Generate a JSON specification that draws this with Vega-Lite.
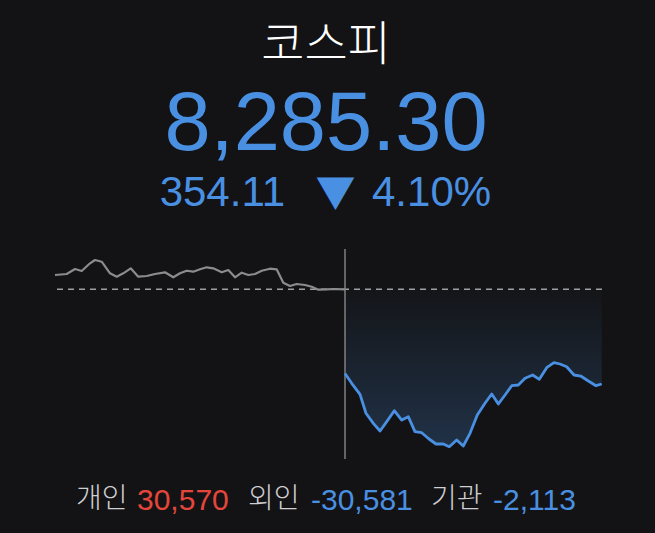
{
  "$schema": "https://vega.github.io/schema/vega-lite/v6.json",
  "width": 547,
  "height": 210,
  "autosize": {"type": "none"},
  "padding": {"left": 55, "top": 249, "right": 53, "bottom": 74},
  "background": "#131315",
  "config": {"view": {"stroke": null}},
  "datasets": {
    "prices": [
      {"series": "prev", "minute": 0, "kospi": 8692.9},
      {"series": "prev", "minute": 15.7, "kospi": 8696.6},
      {"series": "prev", "minute": 26.9, "kospi": 8715.3},
      {"series": "prev", "minute": 35.9, "kospi": 8707.8},
      {"series": "prev", "minute": 47.1, "kospi": 8736.6},
      {"series": "prev", "minute": 53.8, "kospi": 8749.0},
      {"series": "prev", "minute": 62.8, "kospi": 8742.6},
      {"series": "prev", "minute": 74.0, "kospi": 8699.2},
      {"series": "prev", "minute": 83.0, "kospi": 8686.5},
      {"series": "prev", "minute": 91.8, "kospi": 8699.2},
      {"series": "prev", "minute": 101.8, "kospi": 8717.9},
      {"series": "prev", "minute": 112.0, "kospi": 8686.5},
      {"series": "prev", "minute": 123.3, "kospi": 8689.1},
      {"series": "prev", "minute": 134.5, "kospi": 8696.6},
      {"series": "prev", "minute": 147.9, "kospi": 8703.0},
      {"series": "prev", "minute": 159.1, "kospi": 8684.3},
      {"series": "prev", "minute": 168.1, "kospi": 8699.2},
      {"series": "prev", "minute": 177.1, "kospi": 8708.9},
      {"series": "prev", "minute": 186.0, "kospi": 8705.2},
      {"series": "prev", "minute": 195.0, "kospi": 8714.2},
      {"series": "prev", "minute": 204.0, "kospi": 8721.7},
      {"series": "prev", "minute": 212.9, "kospi": 8717.9},
      {"series": "prev", "minute": 224.2, "kospi": 8703.0},
      {"series": "prev", "minute": 233.1, "kospi": 8711.6},
      {"series": "prev", "minute": 242.1, "kospi": 8684.3},
      {"series": "prev", "minute": 251.1, "kospi": 8701.5},
      {"series": "prev", "minute": 260.0, "kospi": 8692.9},
      {"series": "prev", "minute": 269.0, "kospi": 8696.6},
      {"series": "prev", "minute": 278.0, "kospi": 8708.9},
      {"series": "prev", "minute": 289.1, "kospi": 8716.4},
      {"series": "prev", "minute": 298.1, "kospi": 8714.2},
      {"series": "prev", "minute": 307.0, "kospi": 8664.1},
      {"series": "prev", "minute": 316.0, "kospi": 8651.7},
      {"series": "prev", "minute": 325.0, "kospi": 8659.2},
      {"series": "prev", "minute": 336.2, "kospi": 8655.5},
      {"series": "prev", "minute": 345.2, "kospi": 8649.1},
      {"series": "prev", "minute": 354.1, "kospi": 8637.9},
      {"series": "prev", "minute": 365.4, "kospi": 8639.4},
      {"series": "prev", "minute": 374.3, "kospi": 8640.5},
      {"series": "prev", "minute": 390.0, "kospi": 8639.4},
      {"series": "today", "minute": 390.0, "kospi": 8324.6},
      {"series": "today", "minute": 399.0, "kospi": 8287.9},
      {"series": "today", "minute": 410.2, "kospi": 8246.8},
      {"series": "today", "minute": 418.2, "kospi": 8175.8},
      {"series": "today", "minute": 428.1, "kospi": 8138.4},
      {"series": "today", "minute": 437.1, "kospi": 8109.6},
      {"series": "today", "minute": 446.1, "kospi": 8144.4},
      {"series": "today", "minute": 456.3, "kospi": 8185.5},
      {"series": "today", "minute": 466.3, "kospi": 8150.7},
      {"series": "today", "minute": 475.1, "kospi": 8163.1},
      {"series": "today", "minute": 484.1, "kospi": 8107.0},
      {"series": "today", "minute": 493.1, "kospi": 8103.2},
      {"series": "today", "minute": 503.0, "kospi": 8079.7},
      {"series": "today", "minute": 512.4, "kospi": 8061.0},
      {"series": "today", "minute": 522.2, "kospi": 8061.0},
      {"series": "today", "minute": 530.2, "kospi": 8050.9},
      {"series": "today", "minute": 540.2, "kospi": 8075.9},
      {"series": "today", "minute": 549.0, "kospi": 8053.5},
      {"series": "today", "minute": 558.1, "kospi": 8101.0},
      {"series": "today", "minute": 567.9, "kospi": 8169.4},
      {"series": "today", "minute": 578.2, "kospi": 8213.2},
      {"series": "today", "minute": 587.3, "kospi": 8247.9},
      {"series": "today", "minute": 596.2, "kospi": 8210.5},
      {"series": "today", "minute": 605.2, "kospi": 8244.2},
      {"series": "today", "minute": 614.2, "kospi": 8279.0},
      {"series": "today", "minute": 623.1, "kospi": 8281.6},
      {"series": "today", "minute": 632.1, "kospi": 8306.6},
      {"series": "today", "minute": 642.4, "kospi": 8319.0},
      {"series": "today", "minute": 651.3, "kospi": 8302.9},
      {"series": "today", "minute": 661.2, "kospi": 8346.3},
      {"series": "today", "minute": 671.0, "kospi": 8365.0},
      {"series": "today", "minute": 679.1, "kospi": 8360.1},
      {"series": "today", "minute": 688.1, "kospi": 8350.0},
      {"series": "today", "minute": 698.0, "kospi": 8319.0},
      {"series": "today", "minute": 707.0, "kospi": 8315.2},
      {"series": "today", "minute": 717.2, "kospi": 8296.5},
      {"series": "today", "minute": 727.5, "kospi": 8279.0},
      {"series": "today", "minute": 735.2, "kospi": 8285.3}
    ]
  },
  "data": {"name": "prices"},
  "encoding": {
    "x": {"field": "minute", "type": "quantitative", "scale": {"domain": [0, 735.6], "nice": false, "zero": false}, "axis": null},
    "y": {"field": "kospi", "type": "quantitative", "scale": {"domain": [8004.9, 8790.1], "nice": false, "zero": false}, "axis": null}
  },
  "layer": [
    {
      "transform": [{"filter": "datum.series === 'today'"}],
      "mark": {
        "type": "area",
        "color": {
          "gradient": "linear", "x1": 0, "y1": 0, "x2": 0, "y2": 1,
          "stops": [
            {"offset": 0, "color": "rgba(74,144,226,0.02)"},
            {"offset": 1, "color": "rgba(74,144,226,0.24)"}
          ]
        }
      },
      "encoding": {"y2": {"datum": 8639.41}}
    },
    {
      "data": {"values": [{"prevClose": 8639.41}]},
      "mark": {"type": "rule", "color": "#a0a0a2", "strokeWidth": 1.5, "strokeDash": [6, 5]},
      "encoding": {"x": null, "y": {"field": "prevClose", "type": "quantitative"}}
    },
    {
      "data": {"values": [{"open": 390}]},
      "mark": {"type": "rule", "color": "#808083", "strokeWidth": 1.5},
      "encoding": {"y": null, "x": {"field": "open", "type": "quantitative"}}
    },
    {
      "transform": [{"filter": "datum.series === 'prev'"}],
      "mark": {"type": "line", "color": "#8b8b90", "strokeWidth": 2.2, "strokeJoin": "round"}
    },
    {
      "transform": [{"filter": "datum.series === 'today'"}],
      "mark": {"type": "line", "color": "#4a90e2", "strokeWidth": 2.8, "strokeJoin": "round"}
    },
    {
      "data": {"values": [{"label": "코스피"}]},
      "mark": {"type": "text", "x": 271, "y": -189, "align": "center", "baseline": "alphabetic", "font": "Noto Sans CJK KR", "fontWeight": 300, "fontSize": 47, "color": "#ffffff"},
      "encoding": {"x": null, "y": null, "text": {"field": "label"}}
    },
    {
      "data": {"values": [{"label": "8,285.30"}]},
      "mark": {"type": "text", "x": 271, "y": -99, "align": "center", "baseline": "alphabetic", "font": "Liberation Sans", "fontSize": 83, "color": "#4a90e2"},
      "encoding": {"x": null, "y": null, "text": {"field": "label"}}
    },
    {
      "data": {"values": [{"label": "354.11"}]},
      "mark": {"type": "text", "x": 230, "y": -43, "align": "right", "baseline": "alphabetic", "font": "Liberation Sans", "fontSize": 42, "color": "#4a90e2"},
      "encoding": {"x": null, "y": null, "text": {"field": "label"}}
    },
    {
      "data": {"values": [{"label": "▼"}]},
      "mark": {"type": "text", "x": 280.5, "y": -42, "align": "center", "baseline": "alphabetic", "font": "Noto Sans CJK KR", "fontSize": 40, "color": "#4a90e2"},
      "encoding": {"x": null, "y": null, "text": {"field": "label"}}
    },
    {
      "data": {"values": [{"label": "4.10%"}]},
      "mark": {"type": "text", "x": 317, "y": -43, "align": "left", "baseline": "alphabetic", "font": "Liberation Sans", "fontSize": 42, "color": "#4a90e2"},
      "encoding": {"x": null, "y": null, "text": {"field": "label"}}
    },
    {
      "data": {"values": [{"label": "개인"}]},
      "mark": {"type": "text", "x": 21, "y": 259, "align": "left", "baseline": "alphabetic", "font": "Noto Sans CJK KR", "fontWeight": 300, "fontSize": 28, "color": "#cfcfd2"},
      "encoding": {"x": null, "y": null, "text": {"field": "label"}}
    },
    {
      "data": {"values": [{"label": "30,570"}]},
      "mark": {"type": "text", "x": 82, "y": 261, "align": "left", "baseline": "alphabetic", "font": "Liberation Sans", "fontSize": 30, "color": "#e4463b"},
      "encoding": {"x": null, "y": null, "text": {"field": "label"}}
    },
    {
      "data": {"values": [{"label": "외인"}]},
      "mark": {"type": "text", "x": 193, "y": 259, "align": "left", "baseline": "alphabetic", "font": "Noto Sans CJK KR", "fontWeight": 300, "fontSize": 28, "color": "#cfcfd2"},
      "encoding": {"x": null, "y": null, "text": {"field": "label"}}
    },
    {
      "data": {"values": [{"label": "-30,581"}]},
      "mark": {"type": "text", "x": 256, "y": 261, "align": "left", "baseline": "alphabetic", "font": "Liberation Sans", "fontSize": 30, "color": "#4a90e2"},
      "encoding": {"x": null, "y": null, "text": {"field": "label"}}
    },
    {
      "data": {"values": [{"label": "기관"}]},
      "mark": {"type": "text", "x": 376, "y": 259, "align": "left", "baseline": "alphabetic", "font": "Noto Sans CJK KR", "fontWeight": 300, "fontSize": 28, "color": "#cfcfd2"},
      "encoding": {"x": null, "y": null, "text": {"field": "label"}}
    },
    {
      "data": {"values": [{"label": "-2,113"}]},
      "mark": {"type": "text", "x": 438, "y": 261, "align": "left", "baseline": "alphabetic", "font": "Liberation Sans", "fontSize": 30, "color": "#4a90e2"},
      "encoding": {"x": null, "y": null, "text": {"field": "label"}}
    }
  ]
}
